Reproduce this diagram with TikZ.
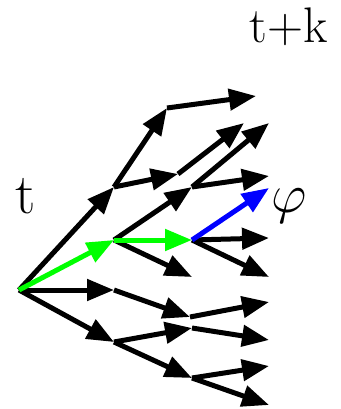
\RequirePackage{fix-cm}
\documentclass[tikz,border=0pt]{standalone}
\usetikzlibrary{arrows.meta}
\begin{document}
\begin{tikzpicture}[x=1pt,y=-1pt,
  edge/.style={line width=5pt,-{Triangle[length=27pt,width=21pt]}},
  lbl/.style={inner sep=0pt,anchor=base}]
\useasboundingbox (0,0) rectangle (340,409);
\coordinate (r) at (19,290);
\coordinate (a1) at (114,187);
\coordinate (a2) at (114,240);
\coordinate (a3) at (114,290);
\coordinate (a4) at (114,342);
\coordinate (b1) at (167,108);
\coordinate (b2) at (178,174);
\coordinate (b3) at (192,187);
\coordinate (b4) at (192,240);
\coordinate (b5) at (192,277);
\coordinate (b6) at (190,317);
\coordinate (b7) at (192,328);
\coordinate (b8) at (192,378);
\coordinate (c1) at (256,96);
\coordinate (c2) at (244,123);
\coordinate (c3) at (269,123);
\coordinate (c4) at (269,176);
\coordinate (c5) at (269,188);
\coordinate (c6) at (269,238);
\coordinate (c7) at (269,277);
\coordinate (c8) at (269,302);
\coordinate (c9) at (269,340);
\coordinate (c10) at (269,366);
\coordinate (c11) at (269,405);
% level 1
\draw[edge] (r) -- (a1);
\draw[edge] (r) -- (a3);
\draw[edge] (r) -- (a4);
% level 2
\draw[edge] (a1) -- (b1);
\draw[edge] (a1) -- (b2);
\draw[edge] (a2) -- (b3);
\draw[edge] (a2) -- (b5);
\draw[edge] (a3) -- (b6);
\draw[edge] (a4) -- (b7);
\draw[edge] (a4) -- (b8);
% level 3
\draw[edge] (b1) -- (c1);
\draw[edge] (b2) -- (c2);
\draw[edge] (b3) -- (c3);
\draw[edge] (b3) -- (c4);
\draw[edge] (b4) -- (c6);
\draw[edge] (b4) -- (c7);
\draw[edge] (b6) -- (c8);
\draw[edge] (b7) -- (c9);
\draw[edge] (b8) -- (c10);
\draw[edge] (b8) -- (c11);
% highlighted path
\draw[edge,green] (r) -- (a2);
\draw[edge,green] (a2) -- (b4);
\draw[edge,blue] (b4) -- (c5);
% labels
\node[lbl,font=\fontsize{57}{60}\selectfont] (lt) at (25.5,213) {t};
\node[lbl,font=\fontsize{50}{54}\selectfont] (ltk) at (288.5,43) {t+k};
\node[lbl,font=\fontsize{55}{60}\selectfont] (lphi) at (289,212) {$\varphi$};
\end{tikzpicture}
\end{document}
